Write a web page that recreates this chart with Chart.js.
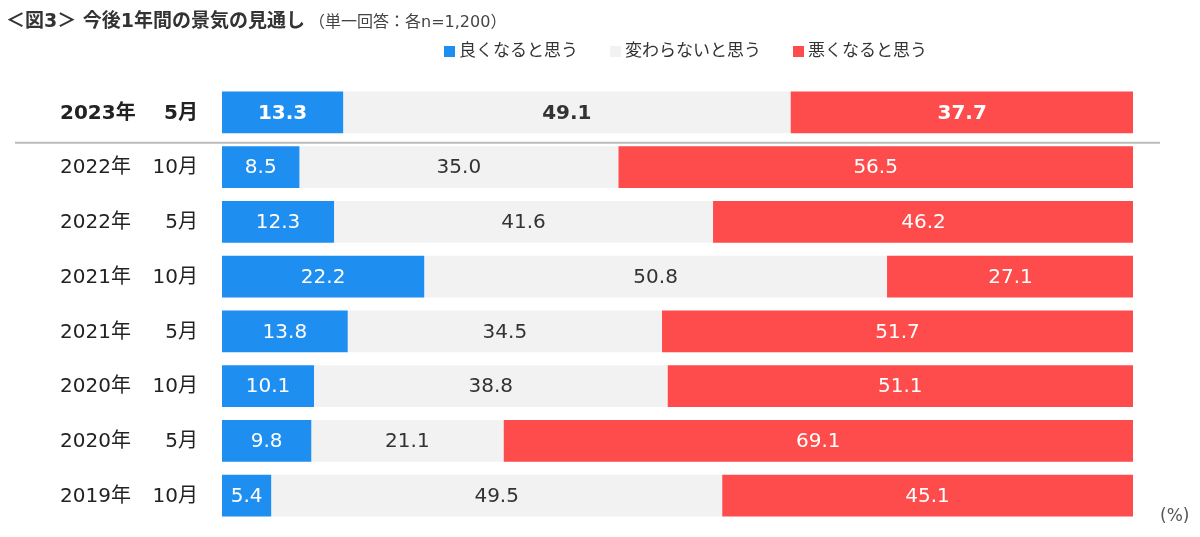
<!DOCTYPE html>
<html>
<head>
<meta charset="utf-8">
<script src="https://cdn.jsdelivr.net/npm/chart.js@4/dist/chart.umd.min.js"></script>
<style>
  body { margin: 0; background: #fff; }
  #wrap { width: 1200px; height: 537px; position: relative; }
</style>
</head>
<body>
<div id="wrap"><canvas id="chart"></canvas></div>
<script>
// Data
const years = ['2023年', '2022年', '2022年', '2021年', '2021年', '2020年', '2020年', '2019年'];
const months = ['5月', '10月', '5月', '10月', '5月', '10月', '5月', '10月'];
const better = [13.3, 8.5, 12.3, 22.2, 13.8, 10.1, 9.8, 5.4];
const same = [49.1, 35.0, 41.6, 50.8, 34.5, 38.8, 21.1, 49.5];
const worse = [37.7, 56.5, 46.2, 27.1, 51.7, 51.1, 69.1, 45.1];
const seriesNames = ['良くなると思う', '変わらないと思う', '悪くなると思う'];
const colors = ['#1f8ef1', '#f2f2f2', '#fe4b4b'];

const FONT = '"DejaVu Sans", "Noto Sans CJK JP", sans-serif';
const labels = years.map((y, i) => y + ' ' + months[i]);

// title, legend, row labels, value labels
const decor = {
    id: 'decor',
    afterDatasetsDraw(chart) {
        const ctx = chart.ctx;
        const yScale = chart.scales.y;
        ctx.save();

        // title
        ctx.textBaseline = 'middle';
        ctx.textAlign = 'left';
        ctx.fillStyle = '#333';
        ctx.font = 'bold 19px ' + FONT;
        const t1 = '＜図3＞ 今後1年間の景気の見通し';
        ctx.fillText(t1, 6, 22);
        const w1 = ctx.measureText(t1).width;
        ctx.font = '16px ' + FONT;
        ctx.fillStyle = '#444';
        ctx.fillText('（単一回答：各n=1,200）', 6 + w1 + 4, 23);

        // legend
        ctx.font = '17px ' + FONT;
        let lx = 444;
        seriesNames.forEach((name, i) => {
            ctx.fillStyle = colors[i];
            ctx.fillRect(lx, 46, 11, 11);
            ctx.fillStyle = '#333';
            ctx.fillText(name, lx + 15, 52);
            lx += 15 + ctx.measureText(name).width + 32;
        });

        // row labels
        years.forEach((y, i) => {
            const py = yScale.getPixelForValue(i);
            ctx.fillStyle = '#222';
            ctx.font = (i === 0 ? 'bold ' : '') + '20px ' + FONT;
            ctx.textAlign = 'left';
            ctx.fillText(y, 60, py + 1);
            ctx.textAlign = 'right';
            ctx.fillText(months[i], 198, py + 1);
        });

        // separator under the latest row
        const sepY = (yScale.getPixelForValue(0) + yScale.getPixelForValue(1)) / 2 + 3;
        ctx.strokeStyle = '#bbbbbb';
        ctx.lineWidth = 2;
        ctx.beginPath();
        ctx.moveTo(15, sepY);
        ctx.lineTo(1160, sepY);
        ctx.stroke();

        // value labels
        ctx.textAlign = 'center';
        chart.data.datasets.forEach((ds, di) => {
            chart.getDatasetMeta(di).data.forEach((bar, i) => {
                ctx.fillStyle = di === 1 ? '#333' : '#fff';
                ctx.font = (i === 0 ? 'bold ' : '') + '20px ' + FONT;
                const cx = (bar.x + bar.base) / 2;
                ctx.fillText(ds.data[i].toFixed(1), cx, bar.y + 1);
            });
        });

        // unit
        ctx.fillStyle = '#555';
        ctx.font = '17px ' + FONT;
        ctx.textAlign = 'left';
        ctx.fillText('(%)', 1160, 517);

        ctx.restore();
    }
};

const ctx = document.getElementById('chart').getContext('2d');
new Chart(ctx, {
    type: 'bar',
    data: {
        labels: labels,
        datasets: [
            { label: seriesNames[0], data: better, backgroundColor: colors[0] },
            { label: seriesNames[1], data: same, backgroundColor: colors[1] },
            { label: seriesNames[2], data: worse, backgroundColor: colors[2] }
        ]
    },
    options: {
        indexAxis: 'y',
        responsive: true,
        maintainAspectRatio: false,
        animation: false,
        layout: { padding: { left: 222, right: 67, top: 85, bottom: 14 } },
        datasets: { bar: { categoryPercentage: 1, barPercentage: 0.765, borderWidth: 0 } },
        scales: {
            x: { stacked: true, min: 0, max: 100, display: false },
            y: { stacked: true, display: false }
        },
        plugins: {
            legend: { display: false },
            tooltip: { enabled: false }
        }
    },
    plugins: [decor]
});
</script>
</body>
</html>
